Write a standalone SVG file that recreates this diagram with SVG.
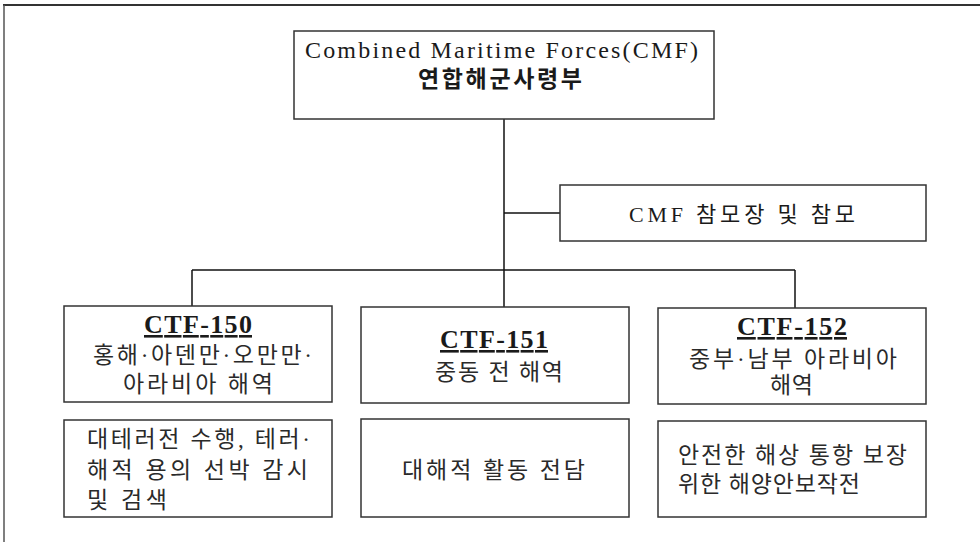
<svg xmlns="http://www.w3.org/2000/svg" width="980" height="542" viewBox="0 0 980 542">
<style>
.box{fill:#fff;stroke:#333;stroke-width:1.5}
.ln{stroke:#111;stroke-width:1.5;fill:none}
text{font-family:"Liberation Serif","Noto Sans CJK KR",serif;fill:#1a1a1a;font-size:20px}
.ko{font-size:23px;fill:#2a2a2a}
.hd{font-weight:bold;font-size:26px;text-decoration:underline}
</style>
<rect x="0" y="0" width="980" height="542" fill="#fff"/>
<g id="frame">
<line x1="3" y1="5" x2="980" y2="5" stroke="#333" stroke-width="2"/>
<line x1="4" y1="5" x2="4" y2="542" stroke="#555" stroke-width="1.5"/>
</g>
<g id="connectors">
<line class="ln" x1="504" y1="119" x2="504" y2="270"/>
<line class="ln" x1="504" y1="213" x2="560" y2="213"/>
<line class="ln" x1="192" y1="270" x2="795" y2="270"/>
<line class="ln" x1="192" y1="270" x2="192" y2="306"/>
<line class="ln" x1="504" y1="270" x2="504" y2="307"/>
<line class="ln" x1="795" y1="270" x2="795" y2="308"/>
</g>
<g id="cmf">
<rect class="box" x="294" y="31" width="420" height="88"/>
<text x="305" y="58" textLength="393" lengthAdjust="spacing" style="font-size:24px">Combined Maritime Forces(CMF)</text>
<text x="418" y="87" textLength="164" lengthAdjust="spacing" style="font-weight:bold;font-size:23px">연합해군사령부</text>
</g>
<g id="staff">
<rect class="box" x="560" y="185" width="366" height="56"/>
<text x="629" y="222" textLength="226" lengthAdjust="spacing" style="font-size:22px">CMF 참모장 및 참모</text>
</g>
<g id="ctf150">
<rect class="box" x="64" y="306" width="268" height="96"/>
<text class="hd" x="144" y="333" textLength="108" lengthAdjust="spacing">CTF-150</text>
<text class="ko" x="93" y="363" textLength="219" lengthAdjust="spacing">홍해·아덴만·오만만·</text>
<text class="ko" x="123" y="392" textLength="150" lengthAdjust="spacing">아라비아 해역</text>
</g>
<g id="ctf151">
<rect class="box" x="361" y="307" width="268" height="96"/>
<text class="hd" x="440" y="348" textLength="108" lengthAdjust="spacing">CTF-151</text>
<text class="ko" x="435" y="380" textLength="128" lengthAdjust="spacing">중동 전 해역</text>
</g>
<g id="ctf152">
<rect class="box" x="658" y="308" width="268" height="96"/>
<text class="hd" x="737" y="335" textLength="110" lengthAdjust="spacing">CTF-152</text>
<text class="ko" x="689" y="367" textLength="208" lengthAdjust="spacing">중부·남부 아라비아</text>
<text class="ko" x="770" y="393" textLength="43" lengthAdjust="spacing">해역</text>
</g>
<g id="task150">
<rect class="box" x="64" y="420" width="268" height="97"/>
<text class="ko" x="87" y="447" textLength="223" lengthAdjust="spacing">대테러전 수행, 테러·</text>
<text class="ko" x="87" y="478" textLength="221" lengthAdjust="spacing">해적 용의 선박 감시</text>
<text class="ko" x="87" y="508" textLength="80" lengthAdjust="spacing">및 검색</text>
</g>
<g id="task151">
<rect class="box" x="361" y="419" width="268" height="98"/>
<text class="ko" x="402" y="478" textLength="183" lengthAdjust="spacing">대해적 활동 전담</text>
</g>
<g id="task152">
<rect class="box" x="658" y="421" width="268" height="96"/>
<text class="ko" x="678" y="463" textLength="229" lengthAdjust="spacing">안전한 해상 통항 보장</text>
<text class="ko" x="678" y="492" textLength="182" lengthAdjust="spacing">위한 해양안보작전</text>
</g>
</svg>
